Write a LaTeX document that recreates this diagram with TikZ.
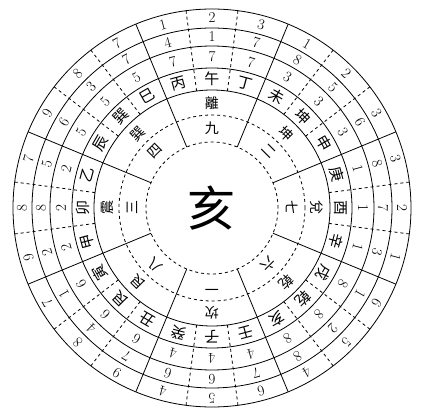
\documentclass[tikz,border=0pt]{standalone}
\usepackage{fontspec}
\newfontfamily\cjk{Noto Sans CJK TC}
\begin{document}
\begin{tikzpicture}[x=1pt,y=1pt]
 \tikzset{num/.style={font=\fontsize{15}{15}\selectfont, inner sep=0pt},
          mtn/.style={font=\cjk\fontsize{15}{15}\selectfont, inner sep=0pt},
          gua/.style={font=\cjk\fontsize{14}{14}\selectfont, inner sep=0pt},
          line/.style={line width=0.8pt}}
  \useasboundingbox (-212,-207) rectangle (214,208);
  % rings
  \draw[line] (0,0) circle (199pt);
  \draw[line] (0,0) circle (180pt);
  \draw[line] (0,0) circle (162pt);
  \draw[line] (0,0) circle (140pt);
  \draw[line] (0,0) circle (118pt);
  \draw[line, dashed] (0,0) circle (93pt);
  \draw[line, dashed] (0,0) circle (66pt);
  % palace and mountain borders
  \foreach \p in {22.5,67.5,...,337.5}
    \draw[line] (\p:66) -- (\p:199);
  \foreach \p in {0,45,...,315} {
    \draw[line, dashed] (\p+7.5:118) -- (\p+7.5:199);
    \draw[line, dashed] (\p-7.5:118) -- (\p-7.5:199);
  }
  % 24 mountains and their stars
  \foreach \ang/\mt/\a/\b/\c [count=\i] in {90/午/2/1/7, 75/丁/3/7/7, 60/未/1/8/3,
      45/坤/2/5/3, 30/申/3/6/3, 15/庚/3/8/1, 0/酉/2/7/1, -15/辛/1/3/1,
      -30/戌/6/1/8, -45/乾/5/2/8, -60/亥/4/8/8, -75/壬/6/7/4, -90/子/5/6/4,
      -105/癸/4/6/4, -120/丑/9/7/6, -135/艮/8/4/6, -150/寅/7/1/6,
      -165/甲/9/2/2, 180/卯/8/8/2, 165/乙/7/5/2, 150/辰/9/6/5,
      135/巽/8/3/5, 120/巳/7/7/5, 105/丙/1/4/7} {
    \node[mtn, rotate=\ang-90] (m\i) at (\ang:129) {\mt};
    \node[num, rotate=\ang-90] (c\i) at (\ang:151) {\c};
    \node[num, rotate=\ang-90] (b\i) at (\ang:171) {\b};
    \node[num, rotate=\ang-90] (a\i) at (\ang:190) {\a};
  }
  % trigrams and palace numbers
  \foreach \ang/\gu/\n [count=\i] in {90/離/九, 45/坤/二, 0/兌/七, -45/乾/六,
      -90/坎/一, -135/艮/八, 180/震/三, 135/巽/四} {
    \node[gua, rotate=\ang-90] (g\i) at (\ang:105) {\gu};
    \node[gua, rotate=\ang-90] (n\i) at (\ang:80) {\n};
  }
  \node[font=\cjk\fontsize{48}{48}\selectfont, inner sep=0pt] (center) at (0,0) {亥};
\end{tikzpicture}
\end{document}
